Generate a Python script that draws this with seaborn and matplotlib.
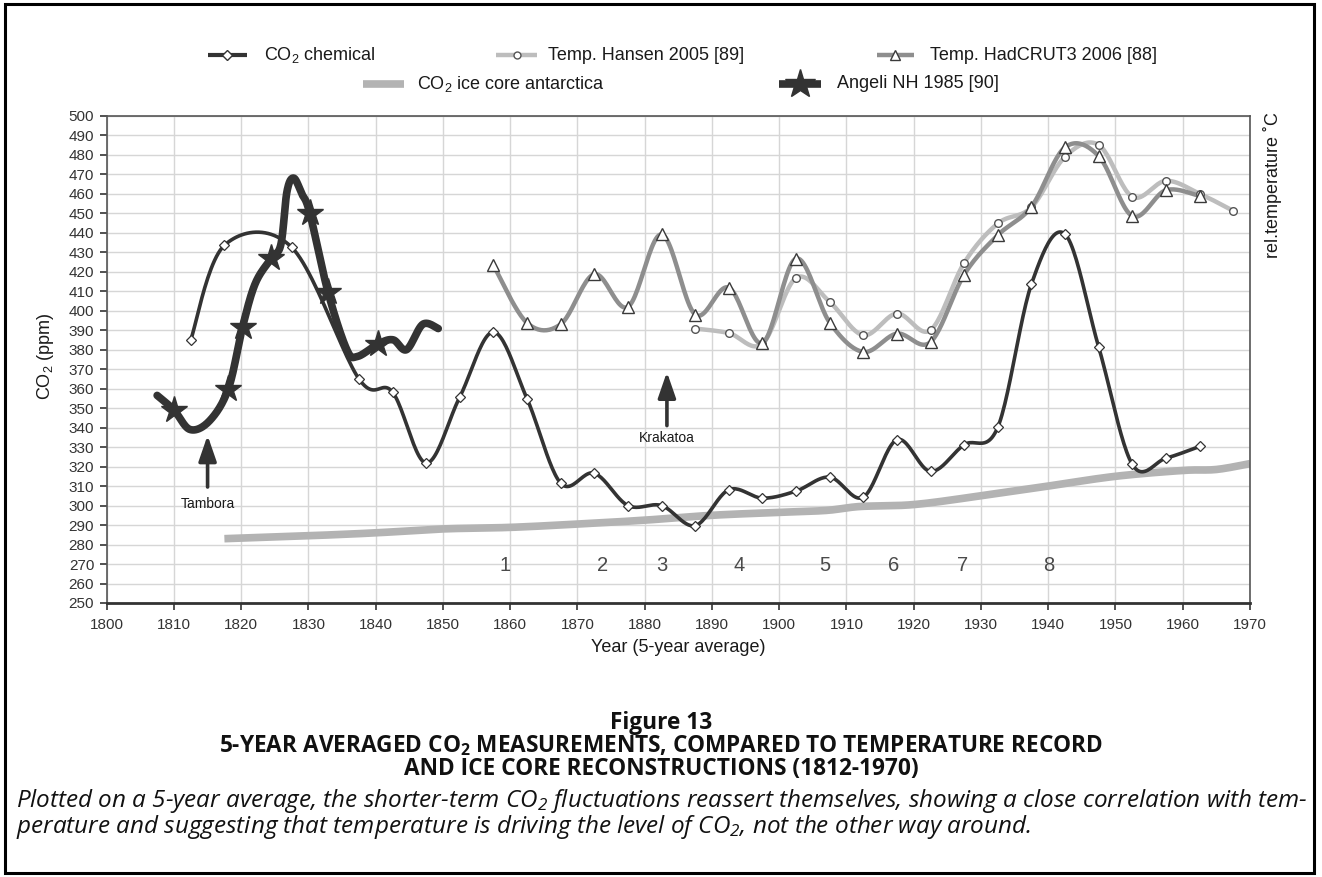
import numpy as np
import matplotlib
matplotlib.use("Agg")
import matplotlib.pyplot as plt
import seaborn as sns
from matplotlib.lines import Line2D
from matplotlib.patches import Rectangle

# ---------------- data ----------------
co2_years = [1812.5, 1817.5, 1827.5, 1837.5, 1842.5, 1847.5, 1852.5, 1857.5, 1862.5,
             1867.5, 1872.5, 1877.5, 1882.5, 1887.5, 1892.5, 1897.5, 1902.5, 1907.5,
             1912.5, 1917.5, 1922.5, 1927.5, 1932.5, 1937.5, 1942.5, 1947.5, 1952.5,
             1957.5, 1962.5]
co2_values = [385, 433.5, 432.5, 365, 358.2, 321.8, 355.7, 389, 354.8,
              311.5, 316.6, 300, 300, 289.7, 308.1, 303.8, 307.4, 314.6,
              304.3, 333.8, 317.5, 331.2, 340.2, 413.6, 439.2, 381.3, 321.1,
              324.3, 330.3]

hansen_years = [1887.5, 1892.5, 1897.5, 1902.5, 1907.5, 1912.5, 1917.5, 1922.5, 1927.5,
                1932.5, 1937.5, 1942.5, 1947.5, 1952.5, 1957.5, 1962.5, 1967.5]
hansen_values = [390.8, 388.5, 383, 416.8, 404.5, 387.4, 398.5, 390, 424.5,
                 444.7, 453, 479, 485, 458.4, 466.6, 460, 451.2]

hadcrut_years = [1857.5, 1862.5, 1867.5, 1872.5, 1877.5, 1882.5, 1887.5, 1892.5, 1897.5,
                 1902.5, 1907.5, 1912.5, 1917.5, 1922.5, 1927.5, 1932.5, 1937.5, 1942.5,
                 1947.5, 1952.5, 1957.5, 1962.5]
hadcrut_values = [423.3, 393.7, 393.0, 418.7, 401.9, 439.1, 398, 411.8, 383.4,
                  426.7, 393.9, 378.8, 388.2, 383.9, 418.5, 438.7, 453.3, 483.8,
                  479.3, 448.5, 461.8, 458.8]

ice_years = [1817.5, 1830, 1840, 1850, 1860, 1870, 1880, 1890, 1900, 1907, 1912,
             1920, 1930, 1940, 1950, 1960, 1965, 1970]
ice_values = [283, 284.5, 286, 288, 288.8, 290.5, 292.5, 295, 296.5, 297.5, 299.5,
              300.5, 305, 310, 315, 318, 318.5, 321.5]

angeli_years = [1807.5, 1810, 1812.4, 1815.3, 1818.1, 1820.2, 1822.1, 1824.5, 1825.9,
                1826.8, 1827.8, 1829.0, 1830.2, 1832.9, 1835.7, 1837.3, 1840.4, 1842.6,
                1844.6, 1847.0, 1849.3]
angeli_values = [356.5, 349, 339, 343.5, 360, 391.6, 414, 427, 434,
                 461, 468, 460, 450, 409.6, 380, 376.5, 383, 385,
                 380, 393, 390.8]
angeli_star_idx = [1, 4, 5, 7, 12, 13, 16]

period_labels = ["1", "2", "3", "4", "5", "6", "7", "8"]
period_years = [1859.2, 1873.7, 1882.6, 1894, 1906.8, 1917, 1927.2, 1940.1]
period_level = 269

events = ["Tambora", "Krakatoa"]
event_years = [1815, 1883.3]
event_tip = [336, 368.5]
event_tail = [309.5, 341]
event_text_y = [301, 334.8]

legend_labels = ["CO$_2$ chemical", "Temp. Hansen 2005 [89]", "Temp. HadCRUT3 2006 [88]",
                 "CO$_2$ ice core antarctica", "Angeli NH 1985 [90]"]

# ---------------- style ----------------
sns.set_theme(style="white")
plt.rcParams["font.family"] = ["Liberation Sans", "DejaVu Sans"]
plt.rcParams["mathtext.default"] = "regular"

W, H = 1322, 877
fig = plt.figure(figsize=(W / 100, H / 100), dpi=100)
fig.patch.set_facecolor("white")

def fx(x):
    return x / W

def fy(y):
    return 1 - y / H

ax_l, ax_r, ax_t, ax_b = 106.7, 1250, 115.7, 603
ax = fig.add_axes([fx(ax_l), fy(ax_b), fx(ax_r - ax_l), (ax_b - ax_t) / H])


def smooth(xs, ys, n=24):
    pts = np.column_stack([xs, ys]).astype(float)
    P = np.vstack([pts[0], pts, pts[-1]])
    out = []
    t = np.linspace(0, 1, n, endpoint=False)[:, None]
    for i in range(1, len(P) - 2):
        p0, p1, p2, p3 = P[i - 1], P[i], P[i + 1], P[i + 2]
        seg = 0.5 * ((2 * p1) + (-p0 + p2) * t + (2 * p0 - 5 * p1 + 4 * p2 - p3) * t ** 2
                     + (-p0 + 3 * p1 - 3 * p2 + p3) * t ** 3)
        out.append(seg)
    out.append(pts[-1:])
    c = np.vstack(out)
    return c[:, 0], c[:, 1]


C_DARK = "#333333"
C_HANSEN = "#bdbdbd"
C_HAD = "#8e8e8e"
C_ICE = "#b3b3b3"

# ice core
sx, sy = smooth(ice_years, ice_values)
sns.lineplot(x=sx, y=sy, ax=ax, sort=False, estimator=None, color=C_ICE, lw=5.5,
             solid_capstyle="butt", zorder=2)

# Hansen
sx, sy = smooth(hansen_years, hansen_values)
sns.lineplot(x=sx, y=sy, ax=ax, sort=False, estimator=None, color=C_HANSEN, lw=3.2, zorder=3)
ax.plot(hansen_years, hansen_values, ls="none", marker="o", ms=5.5, mfc="white",
        mec="#555555", mew=1.0, zorder=6)

# HadCRUT3
sx, sy = smooth(hadcrut_years, hadcrut_values)
sns.lineplot(x=sx, y=sy, ax=ax, sort=False, estimator=None, color=C_HAD, lw=3.2, zorder=4)
ax.plot(hadcrut_years, hadcrut_values, ls="none", marker="^", ms=8, mfc="white",
        mec="#3a3a3a", mew=1.0, zorder=7)

# CO2 chemical
sx, sy = smooth(co2_years, co2_values)
sns.lineplot(x=sx, y=sy, ax=ax, sort=False, estimator=None, color=C_DARK, lw=2.6, zorder=5)
ax.plot(co2_years, co2_values, ls="none", marker="D", ms=5.5, mfc="white",
        mec="#333333", mew=0.9, zorder=8)

# Angeli
sx, sy = smooth(angeli_years, angeli_values)
sns.lineplot(x=sx, y=sy, ax=ax, sort=False, estimator=None, color=C_DARK, lw=5.5,
             solid_capstyle="round", zorder=5)
ax.plot([angeli_years[i] for i in angeli_star_idx], [angeli_values[i] for i in angeli_star_idx],
        ls="none", marker="*", ms=20, mfc=C_DARK, mec=C_DARK, zorder=9)

# events
for name, xv, tip, tail, ty in zip(events, event_years, event_tip, event_tail, event_text_y):
    ax.annotate("", xy=(xv, tip), xytext=(xv, tail),
                arrowprops=dict(arrowstyle="-|>,head_width=0.45,head_length=1.3",
                                color=C_DARK, lw=2.6, shrinkA=0, shrinkB=0), zorder=10)
    ax.text(xv, ty, name, ha="center", va="center", fontsize=10, color="#1a1a1a", zorder=10)

for lab, xv in zip(period_labels, period_years):
    ax.text(xv, period_level, lab, ha="center", va="center", fontsize=14.5, color="#4a4a4a")

ax.set_xlim(1800, 1970)
ax.set_ylim(250, 500)
ax.set_xticks(np.arange(1800, 1971, 10))
ax.set_yticks(np.arange(250, 501, 10))
ax.grid(True, color="#d6d6d6", lw=1.0)
ax.set_axisbelow(True)
ax.tick_params(axis="both", which="major", labelsize=11, colors="#333333", length=5,
               width=1.2, direction="out", left=True, bottom=True, pad=4)
ax.tick_params(axis="x", pad=6)
for s in ["top", "right", "left"]:
    ax.spines[s].set_color("#555555")
    ax.spines[s].set_linewidth(1.2)
ax.spines["bottom"].set_color("#333333")
ax.spines["bottom"].set_linewidth(2.0)
ax.set_xlabel("")
ax.set_ylabel("")

fig.text(fx(678), fy(647), "Year (5-year average)", ha="center", va="center", fontsize=13,
         color="#1a1a1a")
fig.text(fx(46), fy(356), "CO$_2$ (ppm)", ha="center", va="center", fontsize=13,
         rotation=90, color="#1a1a1a")
fig.text(fx(1272), fy(112), "rel.temperature \u02daC", ha="center", va="top", fontsize=13,
         rotation=90, color="#1a1a1a")

# ---------------- legend (manual) ----------------
leg = [
    # x0, x1, y, text_x, color, lw, marker, ms, mfc, mec
    (208, 247, 55, 264, C_DARK, 3.0, "D", 5.5, "white", "#333333"),
    (496, 537, 55, 548, C_HANSEN, 3.2, "o", 5.0, "white", "#555555"),
    (877, 914, 55, 930, C_HAD, 3.2, "^", 7.5, "white", "#3a3a3a"),
    (363, 404, 84, 417, C_ICE, 5.5, None, 0, None, None),
    (779, 821, 84, 837, C_DARK, 5.5, "*", 22, C_DARK, C_DARK),
]
for (x0, x1, yy, tx, col, lw, mk, ms, mfc, mec), lab in zip(leg, legend_labels):
    fig.add_artist(Line2D([fx(x0), fx(x1)], [fy(yy), fy(yy)], color=col, lw=lw,
                          transform=fig.transFigure, solid_capstyle="butt"))
    if mk:
        fig.add_artist(Line2D([fx((x0 + x1) / 2)], [fy(yy)], ls="none", marker=mk, ms=ms,
                              mfc=mfc, mec=mec, mew=1.0, transform=fig.transFigure))
    fig.text(fx(tx), fy(yy), lab, ha="left", va="center", fontsize=13, color="#1a1a1a")

# ---------------- caption ----------------
cap_font = ["Open Sans", "DejaVu Sans"]
t_fig = fig.text(0.5, fy(723), "Figure 13", ha="center", va="center", fontsize=13,
                 fontweight="bold", family=cap_font, color="#111111")
t_l2 = fig.text(0.5, fy(746), "5-YEAR AVERAGED CO$_2$ MEASUREMENTS, COMPARED TO TEMPERATURE RECORD",
                ha="center", va="center", fontsize=13, fontweight="bold", family=cap_font,
                color="#111111")
t_l3 = fig.text(0.5, fy(769), "AND ICE CORE RECONSTRUCTIONS (1812-1970)", ha="center",
                va="center", fontsize=13, fontweight="bold", family=cap_font, color="#111111")
t_i1 = fig.text(fx(16), fy(801), "Plotted on a 5-year average, the shorter-term CO$_2$ fluctuations "
                "reassert themselves, showing a close correlation with tem-",
                ha="left", va="center", fontsize=13, style="italic", family=cap_font,
                color="#111111")
t_i2 = fig.text(fx(16), fy(827), "perature and suggesting that temperature is driving the level of "
                "CO$_2$, not the other way around.",
                ha="left", va="center", fontsize=13, style="italic", family=cap_font,
                color="#111111")

# fit caption font sizes to the widths measured on the reference
fig.canvas.draw()
rend = fig.canvas.get_renderer()
bold_size = 13 * 881 / t_l2.get_window_extent(rend).width
ital_size = 13 * 1290 / t_i1.get_window_extent(rend).width
for t in (t_fig, t_l2, t_l3):
    t.set_fontsize(bold_size)
for t in (t_i1, t_i2):
    t.set_fontsize(ital_size)

# frame around the whole figure
fig.patches.append(Rectangle((fx(5), fy(873)), fx(1309), (873 - 4) / H, fill=False,
                             edgecolor="black", lw=2.2, transform=fig.transFigure))

fig.savefig("out.png", dpi=100, facecolor="white")
